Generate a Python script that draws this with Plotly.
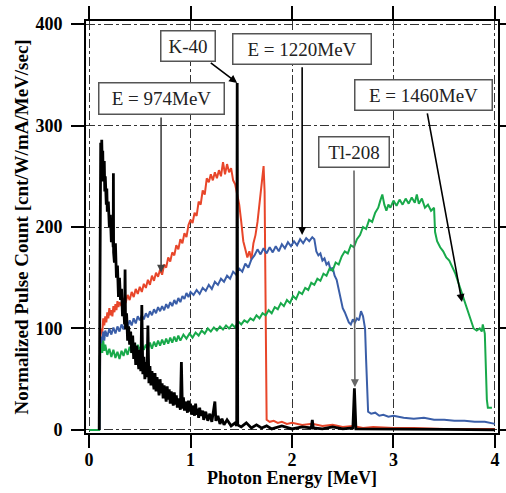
import plotly.graph_objects as go

# background spectrum (black)
bg_x = [0.10, 0.11, 0.115, 0.12, 0.125, 0.13, 0.135, 0.14, 0.15, 0.155, 0.16, 0.17, 0.175, 0.18, 0.19, 0.20,
        0.21, 0.22, 0.23, 0.238, 0.24, 0.242, 0.25, 0.26, 0.27, 0.28, 0.29, 0.30, 0.31, 0.32, 0.33, 0.34,
        0.35, 0.355, 0.36, 0.37, 0.38, 0.39, 0.40, 0.41, 0.42, 0.43, 0.44, 0.45, 0.46, 0.47, 0.48, 0.49,
        0.50, 0.51, 0.52, 0.53, 0.54, 0.55, 0.56, 0.57, 0.58, 0.59, 0.60, 0.61, 0.62, 0.63, 0.64, 0.65,
        0.66, 0.67, 0.68, 0.69, 0.70, 0.71, 0.72, 0.73, 0.74, 0.75, 0.76, 0.77, 0.78, 0.79, 0.80, 0.81,
        0.82, 0.83, 0.84, 0.85, 0.86, 0.87, 0.88, 0.89, 0.90, 0.91, 0.92, 0.93, 0.94, 0.95, 0.96, 0.97,
        0.98, 0.99, 1.00, 1.01, 1.02, 1.03, 1.04, 1.05, 1.06, 1.07, 1.08, 1.09, 1.10, 1.12, 1.13, 1.15,
        1.17, 1.19, 1.21, 1.24, 1.25, 1.27, 1.29, 1.31, 1.33, 1.36, 1.40, 1.44, 1.455, 1.46, 1.465, 1.50,
        1.55, 1.60, 1.65, 1.70, 1.75, 1.80, 1.90, 2.00, 2.10, 2.19, 2.20, 2.21, 2.30, 2.40, 2.50, 2.60,
        2.615, 2.63, 2.75, 3.00, 3.50, 4.00]
bg_y = [0, 240, 283, 250, 286, 262, 275, 245, 265, 235, 250, 222, 238, 215, 225, 200,
        212, 185, 196, 180, 253, 175, 165, 184, 150, 162, 131, 150, 128, 139, 112, 126,
        104, 158, 99, 115, 88, 102, 84, 97, 76, 93, 70, 86, 64, 83, 71, 60,
        79, 58, 123, 55, 72, 50, 67, 52, 103, 46, 63, 44, 58, 47, 40, 56,
        38, 52, 41, 34, 50, 36, 46, 31, 44, 33, 28, 43, 30, 40, 26, 38,
        29, 24, 37, 25, 34, 22, 31, 26, 20, 67, 21, 32, 19, 28, 22, 17,
        29, 18, 26, 15, 24, 19, 14, 26, 15, 21, 12, 22, 14, 19, 10, 18,
        9, 16, 8, 28, 9, 14, 6, 11, 5, 10, 4, 7, 4, 342, 5, 3,
        7, 2, 5, 2, 4, 1, 4, 1, 3, 2, 10, 2, 1, 3, 1, 2,
        41, 1, 1, 1, 0.5, 0]

# E = 974 MeV (red)
e974_x = [0.105, 0.11, 0.12, 0.13, 0.14, 0.15, 0.16, 0.17, 0.18, 0.19, 0.20, 0.21, 0.22, 0.23, 0.24, 0.25,
          0.26, 0.27, 0.28, 0.29, 0.30, 0.32, 0.34, 0.36, 0.38, 0.40, 0.42, 0.44, 0.46, 0.48, 0.50, 0.52,
          0.54, 0.56, 0.58, 0.60, 0.62, 0.64, 0.66, 0.68, 0.70, 0.72, 0.74, 0.76, 0.78, 0.80, 0.82, 0.84,
          0.86, 0.88, 0.90, 0.92, 0.94, 0.96, 0.98, 1.00, 1.02, 1.04, 1.06, 1.08, 1.10, 1.12, 1.14, 1.16,
          1.18, 1.20, 1.22, 1.24, 1.26, 1.28, 1.30, 1.32, 1.34, 1.36, 1.38, 1.40, 1.42, 1.44, 1.46, 1.48,
          1.50, 1.52, 1.54, 1.56, 1.58, 1.60, 1.62, 1.64, 1.66, 1.68, 1.70, 1.71, 1.72, 1.73, 1.74, 1.75,
          1.78, 1.82, 1.86, 1.90, 1.95, 2.00, 2.10, 2.20, 2.30, 2.40, 2.50, 2.60, 2.70, 2.80, 3.00, 3.20,
          3.50, 3.80, 4.00]
e974_y = [0, 88, 100, 95, 110, 103, 112, 106, 116, 110, 120, 113, 118, 112, 122, 116,
          124, 118, 127, 121, 126, 122, 130, 125, 133, 128, 136, 131, 139, 134, 141, 136,
          144, 140, 148, 143, 152, 147, 155, 151, 158, 153, 163, 160, 170, 166, 175, 172,
          182, 178, 188, 184, 194, 190, 202, 207, 204, 214, 211, 225, 222, 236, 232, 248,
          244, 252, 246, 254, 248, 256, 250, 264, 252, 262, 254, 258, 246, 242, 232, 222,
          205, 186, 178, 170, 176, 168, 184, 192, 205, 222, 240, 252, 260, 235, 120, 10,
          8, 9, 7, 8, 6, 7, 5, 6, 4, 5, 3, 4, 2, 3, 2, 2,
          1, 1, 1]

# E = 1220 MeV (blue)
e1220_x = [0.105, 0.11, 0.12, 0.13, 0.14, 0.15, 0.16, 0.18, 0.20, 0.22, 0.24, 0.26, 0.28, 0.30, 0.32, 0.34,
           0.36, 0.38, 0.40, 0.42, 0.44, 0.46, 0.48, 0.50, 0.52, 0.54, 0.56, 0.58, 0.60, 0.62, 0.64, 0.66,
           0.68, 0.70, 0.72, 0.74, 0.76, 0.78, 0.80, 0.82, 0.84, 0.86, 0.88, 0.90, 0.92, 0.94, 0.96, 0.98,
           1.00, 1.03, 1.06, 1.09, 1.12, 1.15, 1.18, 1.21, 1.24, 1.27, 1.30, 1.33, 1.36, 1.39, 1.42, 1.45,
           1.48, 1.51, 1.54, 1.57, 1.60, 1.63, 1.66, 1.69, 1.72, 1.75, 1.78, 1.81, 1.84, 1.87, 1.90, 1.93,
           1.96, 1.99, 2.02, 2.05, 2.08, 2.11, 2.14, 2.17, 2.20, 2.22, 2.24, 2.26, 2.28, 2.30, 2.32, 2.34,
           2.36, 2.38, 2.40, 2.42, 2.44, 2.46, 2.48, 2.50, 2.52, 2.54, 2.56, 2.58, 2.60, 2.62, 2.64, 2.66,
           2.68, 2.70, 2.72, 2.73, 2.74, 2.75, 2.78, 2.82, 2.86, 2.90, 2.95, 3.00, 3.10, 3.20, 3.30, 3.40,
           3.50, 3.60, 3.70, 3.80, 3.90, 4.00]
e1220_y = [0, 78, 92, 85, 97, 88, 98, 92, 100, 94, 101, 95, 102, 97, 104, 99,
           106, 101, 108, 103, 110, 105, 112, 108, 113, 109, 115, 111, 117, 113, 119, 115,
           121, 117, 122, 118, 124, 120, 126, 122, 128, 124, 130, 126, 132, 129, 135, 131,
           136, 133, 138, 134, 140, 137, 143, 139, 146, 143, 149, 146, 152, 149, 156, 153,
           159, 156, 164, 160, 168, 172, 178, 173, 179, 174, 180, 175, 181, 176, 183, 179,
           185, 181, 186, 182, 188, 184, 189, 186, 190, 188, 176, 172, 174, 167, 169, 163,
           165, 158, 160, 152, 148, 138, 130, 120, 116, 110, 106, 104, 109, 106, 110, 108,
           117, 112, 100, 70, 35, 18, 16, 17, 14, 15, 13, 14, 12, 11, 12, 10,
           10, 9, 9, 8, 8, 6]

# E = 1460 MeV (green)
e1460_x = [0.00, 0.10, 0.105, 0.12, 0.13, 0.14, 0.15, 0.16, 0.18, 0.20, 0.22, 0.24, 0.26, 0.28, 0.30, 0.32,
           0.34, 0.36, 0.38, 0.40, 0.42, 0.44, 0.46, 0.48, 0.50, 0.52, 0.54, 0.56, 0.58, 0.60, 0.62, 0.64,
           0.66, 0.68, 0.70, 0.72, 0.74, 0.76, 0.78, 0.80, 0.82, 0.84, 0.86, 0.88, 0.90, 0.93, 0.96, 0.99,
           1.02, 1.05, 1.08, 1.11, 1.14, 1.17, 1.20, 1.23, 1.26, 1.29, 1.32, 1.35, 1.38, 1.41, 1.44, 1.47,
           1.50, 1.53, 1.56, 1.59, 1.62, 1.65, 1.68, 1.71, 1.74, 1.77, 1.80, 1.83, 1.86, 1.89, 1.92, 1.95,
           1.98, 2.01, 2.04, 2.07, 2.10, 2.13, 2.16, 2.19, 2.22, 2.25, 2.28, 2.31, 2.34, 2.37, 2.40, 2.43,
           2.46, 2.49, 2.52, 2.55, 2.58, 2.61, 2.64, 2.67, 2.70, 2.73, 2.76, 2.79, 2.82, 2.85, 2.87, 2.89,
           2.91, 2.93, 2.95, 2.97, 3.00, 3.03, 3.06, 3.09, 3.12, 3.15, 3.18, 3.21, 3.23, 3.25, 3.28, 3.31,
           3.34, 3.37, 3.40, 3.41, 3.43, 3.46, 3.49, 3.52, 3.55, 3.58, 3.61, 3.64, 3.67, 3.70, 3.73, 3.76,
           3.79, 3.82, 3.85, 3.87, 3.88, 3.90, 3.91, 3.92, 3.93, 3.97]
e1460_y = [0, 0, 72, 85, 76, 88, 78, 84, 74, 80, 72, 79, 71, 77, 70, 78,
           73, 80, 74, 82, 76, 83, 77, 84, 78, 85, 79, 84, 80, 86, 80, 87,
           82, 88, 83, 89, 84, 90, 85, 91, 86, 92, 87, 93, 88, 94, 90, 95,
           91, 96, 93, 98, 95, 100, 97, 101, 98, 102, 99, 103, 100, 104, 101, 107,
           104, 108, 106, 110, 108, 113, 110, 115, 113, 118, 115, 121, 119, 125, 122, 128,
           125, 132, 129, 136, 134, 140, 138, 145, 143, 149, 147, 154, 152, 159, 157, 165,
           163, 171, 176, 174, 182, 180, 188, 192, 200, 198, 207, 205, 214, 219, 226, 232,
           222, 216, 222, 219, 226, 221, 227, 222, 228, 223, 229, 224, 232, 223, 228, 219,
           222, 216, 219, 195, 186, 180, 176, 170, 167, 160, 154, 145, 136, 125, 118, 108,
           100, 98, 100, 97, 104, 95, 60, 30, 22, 22]

font = "Liberation Serif, Times New Roman, serif"

fig = go.Figure()
fig.add_trace(go.Scatter(x=e974_x, y=e974_y, mode="lines", line=dict(color="#e8462a", width=2)))
fig.add_trace(go.Scatter(x=e1220_x, y=e1220_y, mode="lines", line=dict(color="#3a5ea8", width=2)))
fig.add_trace(go.Scatter(x=e1460_x, y=e1460_y, mode="lines", line=dict(color="#18a94a", width=2)))
fig.add_trace(go.Scatter(x=bg_x, y=bg_y, mode="lines", line=dict(color="black", width=2.8)))

# labels with arrows: (text, x, y, ax, ay, box w, box h, arrow colour)
notes = [
    ("K-40", 1.46, 342, -49, -37, 56, 32, "black"),
    ("E = 974MeV", 0.71, 155, 0, -174, 127, 33, "#444"),
    ("E = 1220MeV", 2.10, 192, 0, -186, 140, 32, "black"),
    ("E = 1460MeV", 3.675, 126, -38, -207, 139, 32, "black"),
    ("Tl-208", 2.62, 42, -1, -235, 72, 32, "#666"),
]
for t, x, y, ax, ay, w, h, c in notes:
    fig.add_annotation(x=x, y=y, ax=ax, ay=ay, text=t, showarrow=True,
                       arrowhead=2, arrowsize=1, arrowwidth=1.6, arrowcolor=c,
                       startstandoff=3, bgcolor="white", bordercolor="#555",
                       borderwidth=1.5, borderpad=3, width=w - 9, height=h - 9,
                       font=dict(family=font, size=19, color="#222"))

# axis titles
fig.add_annotation(text="<b>Photon Energy [MeV]</b>", xref="paper", yref="paper",
                   x=0.5, y=0, yanchor="top", yshift=-33, showarrow=False,
                   font=dict(family=font, size=18, color="black"))
fig.add_annotation(text="<b>Normalized Pulse Count [cnt/W/mA/MeV/sec]</b>", xref="paper", yref="paper",
                   x=0, y=0.5, xanchor="right", xshift=-53, textangle=-90, showarrow=False,
                   font=dict(family=font, size=19, color="black"))

axis = dict(showline=True, linewidth=2, linecolor="black", mirror="ticks",
            ticks="outside", ticklen=13, tickwidth=2, tickcolor="black",
            showgrid=True, gridcolor="#333", gridwidth=1, griddash="dashdot",
            zeroline=False, tickfont=dict(family=font, size=18, color="black", weight="bold"))

fig.update_xaxes(axis, range=[-0.03, 4.03], tickvals=[0, 1, 2, 3, 4], ticklabelstandoff=-4)
fig.update_yaxes(axis, range=[-3, 403], tickvals=[0, 100, 200, 300, 400], ticklabelstandoff=5)

fig.update_layout(width=506, height=493, showlegend=False,
                  margin=dict(l=86, r=8, t=21, b=60, autoexpand=False),
                  plot_bgcolor="white", paper_bgcolor="white")

# page has a default body margin; drop it so the figure sits at the window corner
fig.write_html("out.html", config={"displayModeBar": False},
               post_script="document.body.style.margin='0px';")
